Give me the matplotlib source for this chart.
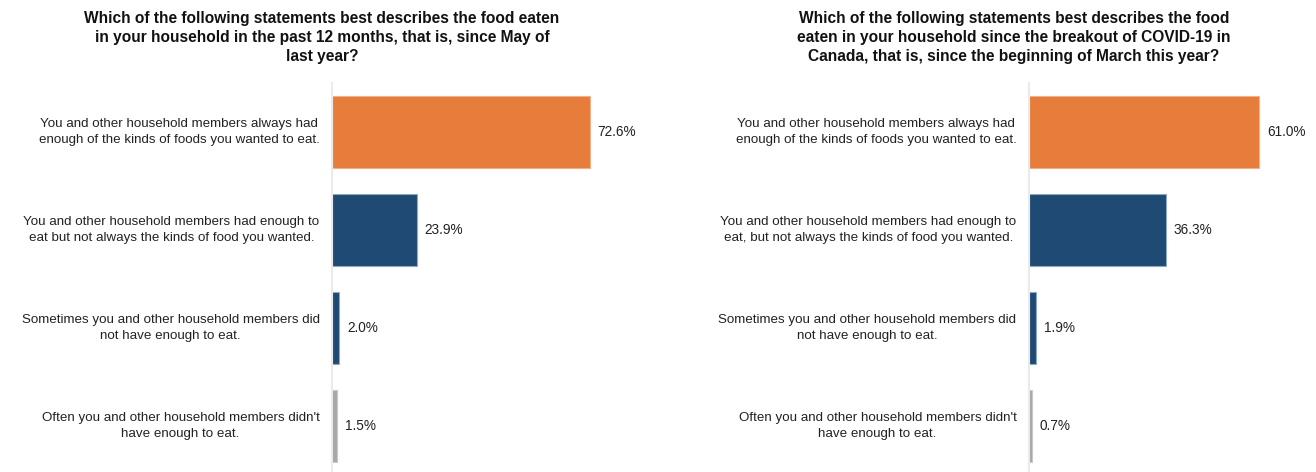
import matplotlib.pyplot as plt

plt.rcParams['font.family'] = ['Liberation Sans', 'DejaVu Sans']

title_past = ("Which of the following statements best describes the food eaten\n"
              "in your household in the past 12 months, that is, since May of\n"
              "last year?")
title_covid = ("Which of the following statements best describes the food\n"
               "eaten in your household since the breakout of COVID-19 in\n"
               "Canada, that is, since the beginning of March this year?")

labels_past = [
    "You and other household members always had\nenough of the kinds of foods you wanted to eat.",
    "You and other household members had enough to\neat but not always the kinds of food you wanted.",
    "Sometimes you and other household members did\nnot have enough to eat.",
    "Often you and other household members didn't\nhave enough to eat.",
]
labels_covid = [
    "You and other household members always had\nenough of the kinds of foods you wanted to eat.",
    "You and other household members had enough to\neat, but not always the kinds of food you wanted.",
    "Sometimes you and other household members did\nnot have enough to eat.",
    "Often you and other household members didn't\nhave enough to eat.",
]
values_past = [72.6, 23.9, 2.0, 1.5]
values_covid = [61.0, 36.3, 1.9, 0.7]

colors = ['#E67D3A', '#1F4A73', '#1F4A73', '#A8A8A8']
edges = ['#F0B08A', '#8FA8C2', '#8FA8C2', '#C8C8C8']

W, H = 1316, 472
fig = plt.figure(figsize=(W / 100, H / 100), dpi=100)


def panel(left_px, width_px, px_per_pct, labels, values, title, title_x):
    ax = fig.add_axes([left_px / W, -3 / H, width_px / W, (H - 80) / H])
    y = list(range(len(values)))
    ax.barh(y, values, height=0.73, color=colors, edgecolor=edges, linewidth=0.8)
    ax.set_xlim(0, width_px / px_per_pct)
    ax.set_ylim(3.5, -0.5)
    ax.set_yticks(y)
    ax.set_yticklabels(labels, fontsize=9.6, color='#222222', ha='right',
                       va='center', multialignment='center')
    for t in ax.get_yticklabels():
        t.set_linespacing(1.5)
    ax.tick_params(axis='y', length=0, pad=9)
    ax.set_xticks([])
    for s in ['top', 'right', 'bottom']:
        ax.spines[s].set_visible(False)
    ax.spines['left'].set_color('#EAEAEA')
    ax.spines['left'].set_linewidth(1.5)
    for yi, v in zip(y, values):
        ax.text(v + 8 / px_per_pct, yi, f"{v:.1f}%", va='center', ha='left',
                fontsize=9.8, color='#222222')
    fig.text(title_x / W, 1 - 11 / H, title, ha='center', va='top',
             fontsize=11.2, fontweight='bold', linespacing=1.32, color='#111111')
    return ax


panel(332, 300, 3.55, labels_past, values_past, title_past, 322)
panel(1029, 280, 3.77, labels_covid, values_covid, title_covid, 1014)

fig.savefig('out.png', dpi=100, facecolor='white')
